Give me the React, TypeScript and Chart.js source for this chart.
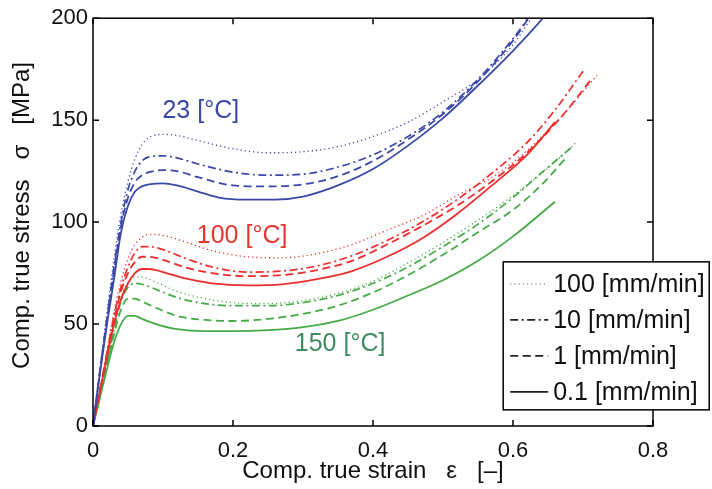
import React, { useEffect, useRef } from "react";
import { Chart, registerables } from "chart.js";

Chart.register(...registerables);

// ---- data: [strain, stress] ----
const blue100: [number, number][] = [[0,0],[0.01,28],[0.02,56],[0.03,82],[0.04,104],[0.05,120],[0.06,131],[0.07,138],[0.08,141.5],[0.1,143],[0.12,142.5],[0.15,140],[0.2,136],[0.25,134],[0.3,134.5],[0.35,137],[0.4,142],[0.45,149],[0.5,159],[0.55,170],[0.6,187],[0.63,202]];
const blue10: [number, number][] = [[0,0],[0.01,27.5],[0.02,53],[0.03,78],[0.04,100],[0.05,116],[0.06,125],[0.07,130],[0.08,132],[0.1,132.5],[0.12,131.5],[0.15,128.5],[0.2,124.5],[0.25,123],[0.3,123.5],[0.35,127],[0.4,133],[0.45,142],[0.5,154],[0.55,170],[0.6,190],[0.63,204]];
const blue1: [number, number][] = [[0,0],[0.01,27],[0.02,52],[0.03,76],[0.04,98],[0.05,112],[0.06,119.5],[0.07,123],[0.08,124.5],[0.1,125.5],[0.12,125],[0.15,122],[0.2,118],[0.25,117.5],[0.3,118.5],[0.35,122.5],[0.4,130],[0.45,140.5],[0.5,153],[0.55,169],[0.6,189],[0.63,204]];
const blue01: [number, number][] = [[0,0],[0.01,26],[0.02,50],[0.03,72],[0.04,95],[0.05,108],[0.06,115],[0.07,117.5],[0.08,118.5],[0.1,119],[0.12,118],[0.15,115],[0.18,112],[0.22,111],[0.26,111],[0.3,112.5],[0.35,118],[0.4,126],[0.45,137.5],[0.5,151],[0.55,167],[0.6,184],[0.65,203],[0.67,212]];

const red100: [number, number][] = [[0,0],[0.01,18],[0.02,37],[0.03,56],[0.04,71],[0.05,82],[0.06,89],[0.07,92.5],[0.08,94],[0.1,93.5],[0.13,90.5],[0.17,86],[0.22,83],[0.27,82.5],[0.32,84.5],[0.37,89],[0.42,96],[0.47,103],[0.52,113],[0.57,122],[0.62,135],[0.67,152],[0.72,172]];
const red10: [number, number][] = [[0,0],[0.01,18],[0.02,36],[0.03,54],[0.04,68],[0.05,78],[0.06,85],[0.07,88],[0.08,88],[0.1,86.5],[0.13,82.5],[0.17,78],[0.22,75.5],[0.27,76],[0.32,78.5],[0.37,83.5],[0.42,91],[0.47,100],[0.52,111],[0.57,124],[0.62,139],[0.66,155],[0.7,174]];
const red1: [number, number][] = [[0,0],[0.01,17.5],[0.02,35],[0.03,52],[0.04,66],[0.05,75],[0.06,80.5],[0.07,83],[0.08,83],[0.1,81.5],[0.13,78],[0.17,75],[0.22,73.5],[0.27,74],[0.32,76.5],[0.37,81],[0.42,89],[0.47,98],[0.52,108],[0.57,120],[0.62,134],[0.67,152],[0.714,171]];
const red01: [number, number][] = [[0,0],[0.01,17],[0.02,34],[0.03,50],[0.04,62],[0.05,70],[0.06,75],[0.07,77],[0.08,77],[0.1,75.5],[0.13,72.5],[0.17,70],[0.22,69],[0.27,69.5],[0.32,72],[0.37,76],[0.42,83],[0.47,92],[0.52,104],[0.57,118],[0.62,133],[0.66,149]];

const green100: [number, number][] = [[0,0],[0.01,16],[0.02,32],[0.03,49],[0.04,63],[0.05,70.5],[0.06,73],[0.07,73],[0.09,70.5],[0.12,66],[0.16,62.5],[0.2,60.5],[0.25,60],[0.3,61.5],[0.35,65],[0.4,71],[0.45,80],[0.5,90],[0.55,101],[0.6,113],[0.645,125],[0.69,139]];
const green10: [number, number][] = [[0,0],[0.01,15],[0.02,31],[0.03,47],[0.04,61],[0.05,68],[0.06,70],[0.07,69.5],[0.09,67],[0.12,63],[0.16,60],[0.2,59],[0.25,59],[0.3,60.5],[0.35,64],[0.4,70],[0.45,78],[0.5,88],[0.55,99],[0.6,112],[0.64,124],[0.685,137]];
const green1: [number, number][] = [[0,0],[0.01,15],[0.02,30],[0.03,45],[0.04,57],[0.05,62.5],[0.06,62.5],[0.07,61],[0.09,58],[0.12,54],[0.16,52],[0.2,51.5],[0.25,52.5],[0.3,55],[0.35,59],[0.4,65.5],[0.45,74],[0.5,84],[0.55,95],[0.6,106],[0.64,118],[0.677,132]];
const green01: [number, number][] = [[0,0],[0.01,14],[0.02,28],[0.03,41],[0.04,50],[0.05,54],[0.06,54],[0.07,52.5],[0.09,50],[0.12,47.5],[0.16,46.5],[0.2,46.5],[0.25,47],[0.3,48.5],[0.35,51.5],[0.4,57],[0.45,64],[0.5,71.5],[0.55,81],[0.6,93],[0.66,110]];

const rateLabels = ["100 [mm/min]", "10 [mm/min]", "1 [mm/min]", "0.1 [mm/min]"];
const tempLabels = ["23 [°C]", "100 [°C]", "150 [°C]"];
const tempLabelStrain = [0.154, 0.213, 0.353];
const tempLabelStress = [154.5, 93, 40];
const xTicks = [0, 0.2, 0.4, 0.6, 0.8];
const yTicks = [0, 50, 100, 150, 200];

const tempColors = ["#3b48a8", "#ec2d2d", "#46aa46"];
const tempTextColors = ["#3b48a8", "#e2372f", "#3d8c60"];
const rateDashes: number[][] = [[1.2, 3], [8, 3.5, 2, 3.5], [8, 4.5], []];
const rateWidths = [1.3, 1.7, 1.8, 1.8];

const curves: [number, number][][][] = [
  [blue100, blue10, blue1, blue01],
  [red100, red10, red1, red01],
  [green100, green10, green1, green01],
];

const FONT = "'Liberation Sans', Arial, Helvetica, sans-serif";

const overlayPlugin = {
  id: "overlay",
  afterDatasetsDraw(chart: any) {
    const { ctx, chartArea: a, scales } = chart;
    const xs = scales.x, ys = scales.y;
    ctx.save();
    // frame
    ctx.strokeStyle = "#000";
    ctx.lineWidth = 1.5;
    ctx.setLineDash([]);
    ctx.strokeRect(a.left, a.top, a.right - a.left, a.bottom - a.top);
    const L = 6;
    ctx.beginPath();
    xTicks.forEach((v) => {
      const px = xs.getPixelForValue(v);
      ctx.moveTo(px, a.bottom); ctx.lineTo(px, a.bottom - L);
      ctx.moveTo(px, a.top); ctx.lineTo(px, a.top + L);
    });
    yTicks.forEach((v) => {
      const py = ys.getPixelForValue(v);
      ctx.moveTo(a.left, py); ctx.lineTo(a.left + L, py);
      ctx.moveTo(a.right, py); ctx.lineTo(a.right - L, py);
    });
    ctx.stroke();

    // temperature labels
    ctx.font = `25px ${FONT}`;
    ctx.textAlign = "center";
    ctx.textBaseline = "middle";
    tempLabels.forEach((t, i) => {
      ctx.fillStyle = tempTextColors[i];
      ctx.fillText(t, xs.getPixelForValue(tempLabelStrain[i]), ys.getPixelForValue(tempLabelStress[i]));
    });

    // legend
    const bx = xs.getPixelForValue(0.586), by = ys.getPixelForValue(80.5);
    const bw = 206, bh = 148;
    ctx.fillStyle = "#fff";
    ctx.fillRect(bx, by, bw, bh);
    ctx.strokeStyle = "#000";
    ctx.lineWidth = 1.5;
    ctx.strokeRect(bx, by, bw, bh);
    ctx.textAlign = "left";
    rateLabels.forEach((lab, i) => {
      const cy = by + 22 + i * 36;
      ctx.beginPath();
      ctx.setLineDash(rateDashes[i]);
      ctx.lineWidth = rateWidths[i];
      ctx.strokeStyle = i === 0 ? "#888" : "#222";
      ctx.moveTo(bx + 7, cy);
      ctx.lineTo(bx + 45, cy);
      ctx.stroke();
      ctx.setLineDash([]);
      ctx.fillStyle = "#111";
      ctx.fillText(lab, bx + 50, cy + 1);
    });
    ctx.restore();
  },
};

export default function App() {
  const ref = useRef<HTMLCanvasElement>(null);
  useEffect(() => {
    if (!ref.current) return;
    const datasets: any[] = [];
    curves.forEach((group, ti) => {
      group.forEach((pts, ri) => {
        datasets.push({
          label: `${tempLabels[ti]} ${rateLabels[ri]}`,
          data: pts.map(([x, y]) => ({ x, y })),
          borderColor: tempColors[ti],
          borderWidth: rateWidths[ri],
          borderDash: rateDashes[ri],
          pointRadius: 0,
          fill: false,
          cubicInterpolationMode: "monotone",
        });
      });
    });
    const chart = new Chart(ref.current, {
      type: "line",
      data: { datasets },
      plugins: [overlayPlugin],
      options: {
        animation: false,
        responsive: true,
        maintainAspectRatio: false,
        layout: { padding: { top: 15, right: 59, left: 0, bottom: 0 } },
        plugins: { legend: { display: false }, tooltip: { enabled: false } },
        scales: {
          x: {
            type: "linear",
            min: 0,
            max: 0.8,
            afterBuildTicks: (s: any) => { s.ticks = xTicks.map((v) => ({ value: v })); },
            afterFit: (s: any) => { s.height = 63; },
            grid: { display: false, drawTicks: false, tickLength: 0 },
            border: { display: false },
            ticks: {
              color: "#111",
              font: { size: 22, family: FONT },
              padding: 12,
              maxRotation: 0,
              callback: (v: any) => (v === 0 ? "0" : Number(v).toFixed(1)),
            },
            title: {
              display: true,
              text: "Comp. true strain   ε   [–]",
              color: "#111",
              font: { size: 24, family: FONT },
              padding: { top: 0, bottom: 3 },
            },
          },
          y: {
            type: "linear",
            min: 0,
            max: 200,
            afterBuildTicks: (s: any) => { s.ticks = yTicks.map((v) => ({ value: v })); },
            afterFit: (s: any) => { s.width = 93; },
            grid: { display: false, drawTicks: false, tickLength: 0 },
            border: { display: false },
            ticks: {
              color: "#111",
              font: { size: 22, family: FONT },
              padding: 5,
              callback: (v: any) => String(v),
            },
            title: {
              display: true,
              text: "  Comp. true stress   σ   [MPa]",
              color: "#111",
              font: { size: 24, family: FONT },
              padding: { top: 8, bottom: 0 },
            },
          },
        },
      },
    });
    return () => chart.destroy();
  }, []);
  return (
    <div style={{ position: "fixed", left: 0, top: 0, width: 712, height: 489, background: "#fff" }}>
      <canvas ref={ref} />
    </div>
  );
}
